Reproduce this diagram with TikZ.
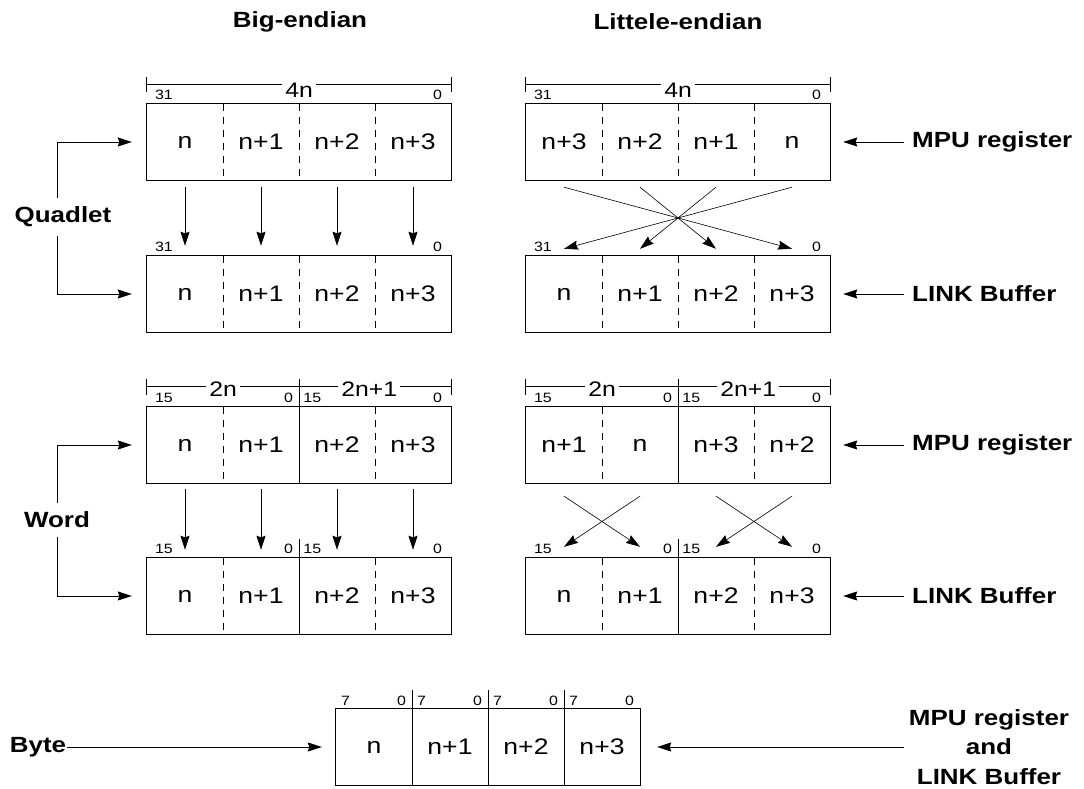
\documentclass[tikz,border=0pt]{standalone}
\usepackage{fontspec}
\setmainfont[FakeStretch=1.18]{Liberation Sans}
\usetikzlibrary{arrows.meta}

\tikzset{
  cell/.style={minimum width=76pt, minimum height=76pt, inner sep=0pt, font=\fontsize{22.5}{26}\selectfont},
  bitno/.style={inner sep=0pt, font=\fontsize{13.5}{15}\selectfont},
  dimlabel/.style={fill=white, inner xsep=3pt, inner ysep=1pt, font=\fontsize{21}{25}\selectfont},
  heading/.style={font=\bfseries\fontsize{22}{28}\selectfont},
  side/.style={inner xsep=8pt, font=\bfseries\fontsize{22}{29.5}\selectfont},
  group/.style={inner xsep=1pt, inner ysep=9pt, font=\bfseries\fontsize{22}{29.5}\selectfont},
  regbox/.style={line width=1.2pt},
  divider/.style={line width=0.8pt, dash pattern=on 7pt off 6pt},
  dimline/.style={line width=0.8pt},
  arr/.style={line width=0.9pt, -{Stealth[length=14pt,width=9pt,inset=1.5pt]}},
  crossarr/.style={line width=0.6pt, -{Stealth[length=14pt,width=9pt,inset=1.5pt]}}
}

\begin{document}
\begin{tikzpicture}[x=1pt, y=1pt]
\useasboundingbox (0,0) rectangle (1084,789);

% headings
\node[heading] (hbig) at (300,767) {Big-endian};
\node[heading] (hlit) at (678,767) {Littele-endian};

% quadlet
\foreach \lab [count=\i] in {n,n+1,n+2,n+3} {
  \node[cell] (qbm\i) at ({109+76*\i},647) {\lab};
  \node[cell] (qbl\i) at ({109+76*\i},495) {\lab};
  \node[cell] (qll\i) at ({488+76*\i},495) {\lab};
}
\foreach \lab [count=\i] in {n+3,n+2,n+1,n}
  \node[cell] (qlm\i) at ({488+76*\i},647) {\lab};

\foreach \r in {qbm,qbl,qlm,qll} {
  \draw[regbox] (\r1.north west) rectangle (\r4.south east);
  \foreach \i in {1,2,3}
    \draw[divider] (\r\i.north east) -- (\r\i.south east);
  \node[bitno, anchor=south west] at ([shift={(8pt,4pt)}]\r1.north west) {31};
  \node[bitno, anchor=south east] at ([shift={(-9pt,4pt)}]\r4.north east) {0};
}
\foreach \r in {qbm,qlm} {
  \draw[dimline] ([yshift=19pt]\r1.north west) -- ([yshift=19pt]\r4.north east);
  \draw[dimline] ([yshift=12pt]\r1.north west) -- ([yshift=27pt]\r1.north west);
  \draw[dimline] ([yshift=12pt]\r4.north east) -- ([yshift=27pt]\r4.north east);
  \node[dimlabel] at ([yshift=14pt]\r2.north east) {4n};
}

\foreach \i in {1,...,4}
  \draw[arr] ([yshift=-7pt]qbm\i.south) -- ([yshift=10pt]qbl\i.north);
\foreach \i/\j in {1/4,2/3,3/2,4/1}
  \draw[crossarr] ([yshift=-7pt]qlm\i.south) -- ([yshift=7pt]qll\j.north);

\node[side, anchor=west] (qmpu) at (904,647) {MPU register};
\node[side, anchor=west] (qlink) at (904,495) {LINK Buffer};
\draw[arr] (qmpu.west) -- ([xshift=13pt]qlm4.east);
\draw[arr] (qlink.west) -- ([xshift=13pt]qll4.east);

\node[group] (quad) at (63,572) {Quadlet};
\draw[arr] ([xshift=-6pt]quad.north) |- ([xshift=-15pt]qbm1.west);
\draw[arr] ([xshift=-6pt]quad.south) |- ([xshift=-15pt]qbl1.west);

% word
\foreach \lab [count=\i] in {n,n+1,n+2,n+3} {
  \node[cell] (wbm\i) at ({109+76*\i},344) {\lab};
  \node[cell] (wbl\i) at ({109+76*\i},193) {\lab};
  \node[cell] (wll\i) at ({488+76*\i},193) {\lab};
}
\foreach \lab [count=\i] in {n+1,n,n+3,n+2}
  \node[cell] (wlm\i) at ({488+76*\i},344) {\lab};

\foreach \r in {wbm,wbl,wlm,wll} {
  \draw[regbox] (\r1.north west) rectangle (\r4.south east);
  \draw[regbox] (\r2.north east) -- (\r2.south east);
  \foreach \i in {1,3}
    \draw[divider] (\r\i.north east) -- (\r\i.south east);
  \node[bitno, anchor=south west] at ([shift={(8pt,4pt)}]\r1.north west) {15};
  \node[bitno, anchor=south east] at ([shift={(-6pt,4pt)}]\r2.north east) {0};
  \node[bitno, anchor=south west] at ([shift={(4pt,4pt)}]\r2.north east) {15};
  \node[bitno, anchor=south east] at ([shift={(-9pt,4pt)}]\r4.north east) {0};
}
\foreach \r in {wbm,wlm} {
  \draw[dimline] ([yshift=20pt]\r1.north west) -- ([yshift=20pt]\r4.north east);
  \draw[dimline] ([yshift=12pt]\r1.north west) -- ([yshift=28pt]\r1.north west);
  \draw[dimline] ([yshift=0pt]\r2.north east) -- ([yshift=28pt]\r2.north east);
  \draw[dimline] ([yshift=12pt]\r4.north east) -- ([yshift=28pt]\r4.north east);
  \node[dimlabel] at ([yshift=18pt]\r1.north east) {2n};
  \node[dimlabel] at ([shift={(-6pt,18pt)}]\r3.north east) {2n+1};
}
\foreach \r in {wbl,wll}
  \draw[dimline] (\r2.north east) -- ([yshift=19pt]\r2.north east);

\foreach \i in {1,...,4}
  \draw[arr] ([yshift=-6pt]wbm\i.south) -- ([yshift=8pt]wbl\i.north);
\foreach \i/\j in {1/2,2/1,3/4,4/3}
  \draw[crossarr] ([yshift=-13pt]wlm\i.south) -- ([yshift=11pt]wll\j.north);

\node[side, anchor=west] (wmpu) at (904,344) {MPU register};
\node[side, anchor=west] (wlink) at (904,193) {LINK Buffer};
\draw[arr] (wmpu.west) -- ([xshift=13pt]wlm4.east);
\draw[arr] (wlink.west) -- ([xshift=13pt]wll4.east);

\node[group] (word) at (57,269) {Word};
\draw[arr] (word.north) |- ([xshift=-15pt]wbm1.west);
\draw[arr] (word.south) |- ([xshift=-15pt]wbl1.west);

% byte
\foreach \lab [count=\i] in {n,n+1,n+2,n+3} {
  \node[cell] (by\i) at ({298+76*\i},42) {\lab};
  \node[bitno, anchor=south west] at ([shift={(5pt,3pt)}]by\i.north west) {7};
  \node[bitno, anchor=south east] at ([shift={(-6pt,3pt)}]by\i.north east) {0};
}
\draw[regbox] (by1.north west) rectangle (by4.south east);
\foreach \i in {1,2,3} {
  \draw[regbox] (by\i.north east) -- (by\i.south east);
  \draw[dimline] (by\i.north east) -- ([yshift=19pt]by\i.north east);
}

\node[group] (byte) at (38,42) {Byte};
\draw[arr] (byte.east) -- ([xshift=-14pt]by1.west);
\node[side, align=center, inner xsep=5pt] (both) at (989,42) {MPU register\\and\\LINK Buffer};
\draw[arr] (both.west) -- ([xshift=17pt]by4.east);
\end{tikzpicture}
\end{document}
